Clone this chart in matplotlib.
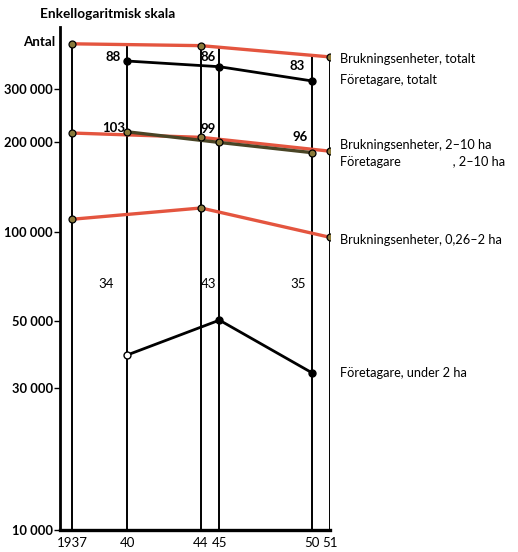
import numpy as np
import matplotlib
matplotlib.use("Agg")
import matplotlib.pyplot as plt

plt.rcParams['font.family'] = ['Lato', 'DejaVu Sans']

# ---- data ----
years_b = [1937, 1944, 1951]              # Brukningsenheter census years
years_f = [1940, 1945, 1950]              # Företagare census years
bruk_total = [426000, 420000, 385000]
bruk_2_10 = [214000, 207000, 186000]
bruk_026_2 = [110000, 120000, 95700]
foret_total = [373000, 357000, 320000]
foret_2_10 = [216000, 199000, 184000]
foret_under2 = [38600, 50500, 33700]
pct_total = ["88", "86", "83"]
pct_2_10 = ["103", "99", "96"]
pct_under2 = ["34", "43", "35"]
xtick_years = [1937, 1940, 1944, 1945, 1950, 1951]
xtick_labels = ["1937", "40", "44", "45", "50", "51"]
ytick_vals = [10000, 30000, 50000, 100000, 200000, 300000]
ytick_labels = ["10 000", "30 000", "50 000", "100 000", "200 000", "300 000"]

RED = '#e4553f'
OLIVE = '#4a4526'

fig = plt.figure(figsize=(5.18, 5.52), dpi=100)
ax = fig.add_axes([60/518, 22/552, 270/518, 503/552])
ax.set_yscale('log')
ax.set_xlim(1936.35, 1951)
ax.set_ylim(10000, 485000)

# vertical year lines up to the top red line
all_years = sorted(set(years_b + years_f))
top_vals = 10 ** np.interp(all_years, years_b, np.log10(bruk_total))
for yr, tv in zip(all_years, top_vals):
    ax.plot([yr, yr], [10000, tv], color='black', lw=1.4, zorder=1, solid_capstyle='butt')

# red series
for vals in (bruk_total, bruk_2_10, bruk_026_2):
    ax.plot(years_b, vals, color=RED, lw=2.4, zorder=3)
    ax.plot(years_b, vals, ls='none', marker='o', ms=5, mfc='#8a7a3a', mec='black', mew=0.9, zorder=5)

# black series
ax.plot(years_f, foret_total, color='black', lw=2.0, zorder=4)
ax.plot(years_f, foret_total, ls='none', marker='o', ms=5, color='black', zorder=5)
ax.plot(years_f, foret_2_10, color=OLIVE, lw=2.4, zorder=4)
ax.plot(years_f, foret_2_10, ls='none', marker='o', ms=5, mfc='#8a7a3a', mec='black', mew=0.9, zorder=5)
ax.plot(years_f, foret_under2, color='black', lw=2.0, zorder=4)
ax.plot(years_f[1:], foret_under2[1:], ls='none', marker='o', ms=5, color='black', zorder=5)
ax.plot(years_f[:1], foret_under2[:1], ls='none', marker='o', ms=5, mfc='white', mec='black', mew=1.0, zorder=5)

# percentage labels (offsets in pixels)
fs = 9.5
off_total = [(-14, 4), (-11, 10), (-14, 15)]
off_2_10 = [(-14, 4), (-11, 13), (-11, 16)]
off_under2 = [-21, -11, -13]
for x, v, t, o in zip(years_f, foret_total, pct_total, off_total):
    ax.annotate(t, (x, v), xytext=o, textcoords='offset pixels', ha='center', va='center',
                fontsize=fs, fontweight='bold')
for x, v, t, o in zip(years_f, foret_2_10, pct_2_10, off_2_10):
    ax.annotate(t, (x, v), xytext=o, textcoords='offset pixels', ha='center', va='center',
                fontsize=fs, fontweight='bold')
for x, t, o in zip(years_f, pct_under2, off_under2):
    ax.annotate(t, (x, 66500), xytext=(o, 0), textcoords='offset pixels', ha='center', va='center',
                fontsize=fs)

# right-side labels
lab_fs = 9.2
tx = 340
def rlabel(ypx, s):
    fig.text(tx/518, 1 - ypx/552, s, fontsize=lab_fs, va='center', ha='left')
rlabel(59, "Brukningsenheter, totalt")
rlabel(80, "Företagare, totalt")
rlabel(145, "Brukningsenheter, 2–10 ha")
rlabel(162, "Företagare                , 2–10 ha")
rlabel(240, "Brukningsenheter, 0,26–2 ha")
rlabel(373, "Företagare, under 2 ha")

fig.text(40/518, 1 - 14/552, "Enkellogaritmisk skala", fontsize=9.8, fontweight='bold', va='center', ha='left')
fig.text(23/518, 1 - 42/552, "Antal", fontsize=9.6, fontweight='bold', va='center', ha='left')

# axes styling
ax.set_yticks(ytick_vals)
ax.set_yticklabels(ytick_labels)
ax.yaxis.set_minor_locator(matplotlib.ticker.NullLocator())
ax.set_xticks(xtick_years)
ax.set_xticklabels(xtick_labels)
ax.tick_params(axis='y', length=4, width=1, labelsize=9.3, pad=1)
ax.tick_params(axis='x', length=0, labelsize=9.5, pad=5)
for lab in ax.get_yticklabels():
    lab.set_fontweight('bold')
ax.spines['top'].set_visible(False)
ax.spines['right'].set_visible(False)
ax.spines['left'].set_linewidth(2)
ax.spines['bottom'].set_linewidth(2.4)

fig.savefig('out.png', dpi=100)
